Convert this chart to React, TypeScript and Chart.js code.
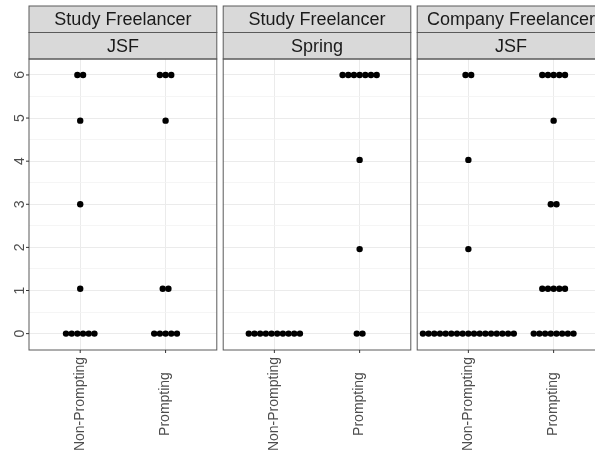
import { useEffect, useRef } from "react";
import { Chart, registerables } from "chart.js";

Chart.register(...registerables);

// Facet labels (two strip rows per panel)
const panelGroups = ["Study Freelancer", "Study Freelancer", "Company Freelancer"];
const panelFrameworks = ["JSF", "Spring", "JSF"];

// Discrete x categories and y axis breaks
const conditions = ["Non-Prompting", "Prompting"];
const yMajorBreaks = [0, 1, 2, 3, 4, 5, 6];
const yMinorBreaks = [0.5, 1.5, 2.5, 3.5, 4.5, 5.5];

// Dot rows: bin centre on the y axis and number of stacked dots
const studyJsfNonPromptingLevels = [0, 1.04, 3, 4.94, 6];
const studyJsfNonPromptingCounts = [6, 1, 1, 1, 2];
const studyJsfPromptingLevels = [0, 1.04, 4.94, 6];
const studyJsfPromptingCounts = [5, 2, 1, 3];

const studySpringNonPromptingLevels = [0];
const studySpringNonPromptingCounts = [10];
const studySpringPromptingLevels = [0, 1.96, 4.03, 6];
const studySpringPromptingCounts = [2, 1, 1, 7];

const companyJsfNonPromptingLevels = [0, 1.96, 4.03, 6];
const companyJsfNonPromptingCounts = [17, 1, 1, 2];
const companyJsfPromptingLevels = [0, 1.04, 3, 4.94, 6];
const companyJsfPromptingCounts = [8, 5, 2, 1, 5];

const panelRows = [
  [
    [studyJsfNonPromptingLevels, studyJsfNonPromptingCounts],
    [studyJsfPromptingLevels, studyJsfPromptingCounts],
  ],
  [
    [studySpringNonPromptingLevels, studySpringNonPromptingCounts],
    [studySpringPromptingLevels, studySpringPromptingCounts],
  ],
  [
    [companyJsfNonPromptingLevels, companyJsfNonPromptingCounts],
    [companyJsfPromptingLevels, companyJsfPromptingCounts],
  ],
];

// Layout / style constants
const FONT = '"Liberation Sans", Arial, Helvetica, sans-serif';
const CANVAS_H = 460;
const PLOT_TOP = 59;
const PLOT_BOTTOM = 350;
const STRIP_TOP = 6;
const STRIP_MID = 32.5;
const DOT_STEP = 0.0666; // horizontal spacing of stacked dots, in x units
const DOT_RADIUS = 3.2;
const X_MIN = 0.4;
const X_MAX = 2.6;
const Y_MIN = -0.38;
const Y_MAX = 6.37;

const panelLayout = [
  { left: 0, width: 220, padLeft: 29, padRight: 3, showY: true },
  { left: 220, width: 194, padLeft: 3, padRight: 3, showY: false },
  { left: 414, width: 194, padLeft: 3, padRight: 3, showY: false },
];

function dotPoints(condIndex: number, levels: number[], counts: number[]) {
  const pts: { x: number; y: number }[] = [];
  levels.forEach((y, i) => {
    const n = counts[i];
    for (let k = 0; k < n; k++) {
      pts.push({ x: condIndex + 1 + (k - (n - 1) / 2) * DOT_STEP, y });
    }
  });
  return pts;
}

const facetDecor = {
  id: "facetDecor",
  afterDraw(chart: any, _args: any, opts: any) {
    const { ctx, chartArea: a, scales } = chart;
    ctx.save();

    // strips
    const rows = [
      [opts.group, STRIP_TOP, STRIP_MID],
      [opts.framework, STRIP_MID, a.top],
    ];
    for (const [label, y0, y1] of rows) {
      ctx.fillStyle = "#D9D9D9";
      ctx.fillRect(a.left, y0, a.width, y1 - y0);
      ctx.strokeStyle = "#5A5A5A";
      ctx.lineWidth = 1;
      ctx.strokeRect(a.left, y0, a.width, y1 - y0);
      ctx.fillStyle = "#1A1A1A";
      ctx.font = `18px ${FONT}`;
      ctx.textAlign = "center";
      ctx.textBaseline = "middle";
      ctx.fillText(label, (a.left + a.right) / 2, (y0 + y1) / 2 + 1);
    }

    // panel frame
    ctx.strokeStyle = "#5A5A5A";
    ctx.lineWidth = 1;
    ctx.strokeRect(a.left, a.top, a.width, a.height);

    // x ticks and rotated labels
    ctx.font = `14px ${FONT}`;
    conditions.forEach((name, i) => {
      const px = scales.x.getPixelForValue(i + 1);
      ctx.strokeStyle = "#333333";
      ctx.beginPath();
      ctx.moveTo(px, a.bottom);
      ctx.lineTo(px, a.bottom + 3);
      ctx.stroke();
      ctx.save();
      ctx.translate(px, 404);
      ctx.rotate(-Math.PI / 2);
      ctx.fillStyle = "#4D4D4D";
      ctx.textAlign = "center";
      ctx.textBaseline = "middle";
      ctx.fillText(name, 0, 0);
      ctx.restore();
    });

    // y ticks and rotated labels
    if (opts.showY) {
      yMajorBreaks.forEach((v) => {
        const py = scales.y.getPixelForValue(v);
        ctx.strokeStyle = "#333333";
        ctx.beginPath();
        ctx.moveTo(a.left - 3, py);
        ctx.lineTo(a.left, py);
        ctx.stroke();
        ctx.save();
        ctx.translate(20, py);
        ctx.rotate(-Math.PI / 2);
        ctx.fillStyle = "#4D4D4D";
        ctx.textAlign = "center";
        ctx.textBaseline = "middle";
        ctx.fillText(String(v), 0, 0);
        ctx.restore();
      });
    }
    ctx.restore();
  },
};

export default function App() {
  const refs = [useRef<HTMLCanvasElement>(null), useRef<HTMLCanvasElement>(null), useRef<HTMLCanvasElement>(null)];

  useEffect(() => {
    const charts = panelLayout.map((lay, p) => {
      const canvas = refs[p].current!;
      const points = panelRows[p].flatMap(([levels, counts], c) => dotPoints(c, levels, counts));
      return new Chart(canvas, {
        type: "scatter",
        data: {
          datasets: [
            {
              data: points,
              backgroundColor: "#000000",
              pointRadius: DOT_RADIUS,
              pointHoverRadius: DOT_RADIUS,
              pointBorderWidth: 0,
              borderWidth: 0,
            },
          ],
        },
        options: {
          animation: false,
          responsive: false,
          events: [],
          layout: {
            padding: {
              left: lay.padLeft,
              right: lay.padRight,
              top: PLOT_TOP,
              bottom: CANVAS_H - PLOT_BOTTOM,
            },
          },
          plugins: {
            legend: { display: false },
            tooltip: { enabled: false },
            facetDecor: {
              group: panelGroups[p],
              framework: panelFrameworks[p],
              showY: lay.showY,
            },
          } as any,
          scales: {
            x: {
              type: "linear",
              min: X_MIN,
              max: X_MAX,
              ticks: { display: false },
              border: { display: false },
              grid: { color: "#EBEBEB", lineWidth: 1, drawTicks: false },
              afterBuildTicks: (s: any) => {
                s.ticks = conditions.map((_, i) => ({ value: i + 1 }));
              },
              afterFit: (s: any) => {
                s.height = 0;
              },
            },
            y: {
              type: "linear",
              min: Y_MIN,
              max: Y_MAX,
              ticks: { display: false },
              border: { display: false },
              grid: {
                drawTicks: false,
                color: (c: any) => (Number.isInteger(c.tick?.value) ? "#EBEBEB" : "#F3F3F3"),
                lineWidth: (c: any) => (Number.isInteger(c.tick?.value) ? 1 : 0.8),
              },
              afterBuildTicks: (s: any) => {
                s.ticks = [...yMajorBreaks, ...yMinorBreaks]
                  .sort((a, b) => a - b)
                  .map((v) => ({ value: v }));
              },
              afterFit: (s: any) => {
                s.width = 0;
              },
            },
          },
        },
        plugins: [facetDecor],
      });
    });
    return () => charts.forEach((c) => c.destroy());
  }, []);

  return (
    <div
      style={{
        position: "fixed",
        left: 0,
        top: 0,
        width: 595,
        height: 460,
        overflow: "hidden",
        background: "#FFFFFF",
      }}
    >
      {panelLayout.map((lay, p) => (
        <canvas
          key={p}
          ref={refs[p]}
          width={lay.width}
          height={CANVAS_H}
          style={{ position: "absolute", left: lay.left, top: 0, width: lay.width, height: CANVAS_H }}
        />
      ))}
    </div>
  );
}
